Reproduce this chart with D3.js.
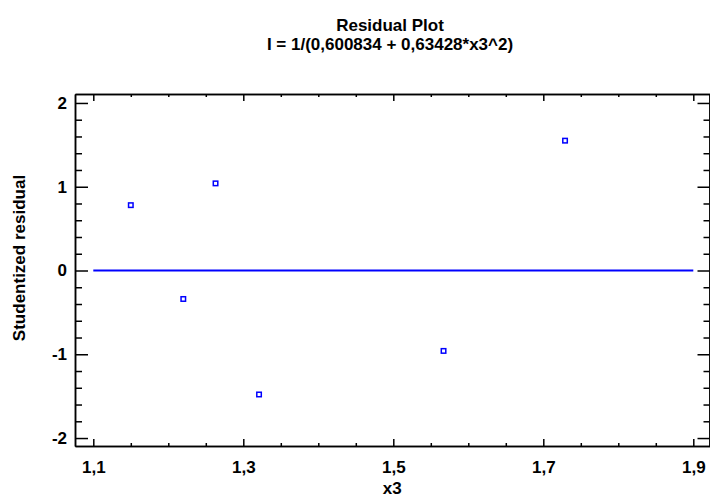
<!DOCTYPE html>
<html>
<head>
<meta charset="utf-8">
<script src="https://cdn.jsdelivr.net/npm/d3@7"></script>
<style>
body { margin: 0; background: #fff; }
text { font-family: "Liberation Sans", Arial, sans-serif; font-weight: bold; }
</style>
</head>
<body>
<script>
// residuals
var x3 = [1.150, 1.220, 1.263, 1.321, 1.567, 1.729];
var residuals = [0.78, -0.34, 1.04, -1.48, -0.96, 1.55];

var xTicks = [1.1, 1.3, 1.5, 1.7, 1.9];
var xMinor = [1.15, 1.2, 1.25, 1.35, 1.4, 1.45, 1.55, 1.6, 1.65, 1.75, 1.8, 1.85];
var yTicks = [-2, -1, 0, 1, 2];
var yMinor = [-1.8, -1.6, -1.4, -1.2, -0.8, -0.6, -0.4, -0.2, 0.2, 0.4, 0.6, 0.8, 1.2, 1.4, 1.6, 1.8];
var zeroLine = [1.1, 1.9];

var WIDTH = 710;
var HEIGHT = 497;
var LEFT = 75, RIGHT = 709.5, TOP = 94, BOTTOM = 446;
var FS = 17;

var svg = d3.select('body')
.append('svg')
.attr('width', WIDTH)
.attr('height', HEIGHT);

var x = d3.scaleLinear().domain([1.0756, 1.9216]).range([LEFT, RIGHT]);
var y = d3.scaleLinear().domain([-2.095, 2.107]).range([BOTTOM, TOP]);

var fmt = function(d){ return String(d).replace('.', ','); };

// title
svg.append('text')
.attr('x', 390).attr('y', 31)
.attr('text-anchor', 'middle')
.attr('font-size', FS)
.text('Residual Plot');

svg.append('text')
.attr('x', 390).attr('y', 50)
.attr('text-anchor', 'middle')
.attr('font-size', FS)
.text('I = 1/(0,600834 + 0,63428*x3^2)');

function styleAxis(g){
  g.selectAll('path,line').attr('stroke', '#000').attr('stroke-width', 1.5);
  g.selectAll('text').attr('font-size', FS).attr('fill', '#000')
   .attr('font-family', '"Liberation Sans", Arial, sans-serif').attr('font-weight', 'bold');
}

// bottom
svg.append('g').attr('transform', 'translate(0,' + BOTTOM + ')')
.call(d3.axisBottom(x).tickValues(xTicks).tickFormat(fmt).tickSize(-7).tickPadding(15).tickSizeOuter(0))
.call(styleAxis);
svg.append('g').attr('transform', 'translate(0,' + BOTTOM + ')')
.call(d3.axisBottom(x).tickValues(xMinor).tickFormat('').tickSize(-3).tickSizeOuter(0))
.call(styleAxis);

// top
svg.append('g').attr('transform', 'translate(0,' + TOP + ')')
.call(d3.axisTop(x).tickValues(xTicks).tickFormat('').tickSize(-7).tickSizeOuter(0))
.call(styleAxis);
svg.append('g').attr('transform', 'translate(0,' + TOP + ')')
.call(d3.axisTop(x).tickValues(xMinor).tickFormat('').tickSize(-3).tickSizeOuter(0))
.call(styleAxis);

// left
svg.append('g').attr('transform', 'translate(' + LEFT + ',0)')
.call(d3.axisLeft(y).tickValues(yTicks).tickFormat(fmt).tickSize(-13).tickPadding(8).tickSizeOuter(0))
.call(styleAxis);
svg.append('g').attr('transform', 'translate(' + LEFT + ',0)')
.call(d3.axisLeft(y).tickValues(yMinor).tickFormat('').tickSize(-7).tickSizeOuter(0))
.call(styleAxis);

// right
svg.append('g').attr('transform', 'translate(' + RIGHT + ',0)')
.call(d3.axisRight(y).tickValues(yTicks).tickFormat('').tickSize(-12).tickSizeOuter(0))
.call(styleAxis);
svg.append('g').attr('transform', 'translate(' + RIGHT + ',0)')
.call(d3.axisRight(y).tickValues(yMinor).tickFormat('').tickSize(-6).tickSizeOuter(0))
.call(styleAxis);

// axis titles
svg.append('text')
.attr('x', (LEFT + RIGHT) / 2).attr('y', 494)
.attr('text-anchor', 'middle')
.attr('font-size', FS)
.text('x3');

svg.append('text')
.attr('transform', 'translate(25,258) rotate(-90)')
.attr('text-anchor', 'middle')
.attr('font-size', FS)
.text('Studentized residual');

// zero line
svg.append('line')
.attr('x1', x(zeroLine[0])).attr('x2', x(zeroLine[1]))
.attr('y1', y(0)).attr('y2', y(0))
.attr('stroke', '#0000ff')
.attr('stroke-width', 2);

// points
var S = 4.5;
svg.selectAll('rect.pt')
.data(x3)
.enter()
.append('rect')
.attr('class', 'pt')
.attr('x', function(d){ return x(d) - S / 2; })
.attr('y', function(d, i){ return y(residuals[i]) - S / 2; })
.attr('width', S)
.attr('height', S)
.attr('fill', '#fff')
.attr('stroke', '#0000ff')
.attr('stroke-width', 1.5);
</script>
</body>
</html>
